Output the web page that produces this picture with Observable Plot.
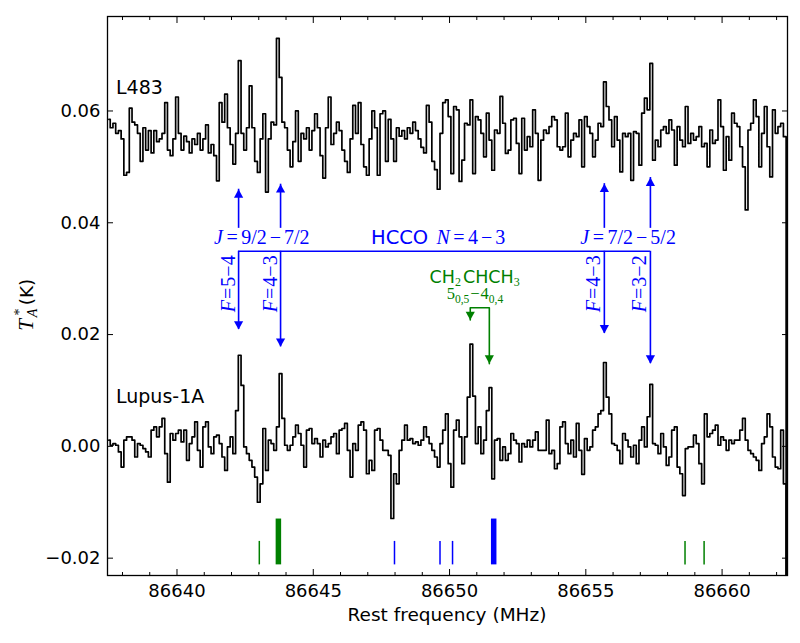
<!DOCTYPE html>
<html><head><meta charset="utf-8">
<script src="https://cdn.jsdelivr.net/npm/d3@7"></script>
<script src="https://cdn.jsdelivr.net/npm/@observablehq/plot@0.6"></script>
<style>body{margin:0;background:#fff}</style>
</head><body><div id="chart"></div>
<script>
// ---- channel grid (MHz) ----
const freqStart = 86637.5, channelWidth = 0.1;
// ---- spectra, T_A* in mK (last value: spectrum edge falling off the panel) ----
const l483 = [
58.5,57,57.8,56,56.5,55,48.5,49,60.5,58,
57.5,56,51,57,53,56.5,52.5,56.5,54.5,55,
56,61.5,53,52,55,62.5,56,53,55.5,54.5,
52.5,55,54,56,53,55,57.5,52.5,54,52,
47.5,61.5,58,63,57,54,50.5,56,69,56,
53,57,64.5,57,51,49,55,59.5,45.5,55,
58,57.5,73,66,58,57,53,50,54.5,60,
51,56,55,57,53,56.5,59.5,57,52,48,
57,62.5,54,56,58,56.5,53,51,49,55,
61,56,61.5,54,50,48.5,55,60,57,48.5,
59.5,60,51,58.5,55,51,57,55.5,56.5,55,
57,56,58,56.5,55,53.5,52.5,61,58,51,
49.5,46,56,61.5,62,59,48.8,60.8,60.2,47.4,
51.2,57.8,57.5,62,48.8,59,58.4,56,51.8,59.6,
54.8,49.4,56.6,56,62.6,57.8,52.4,53,58.4,58.7,
54.2,48.8,58.7,53,55.4,53.6,60.2,56,47.6,54.8,
56.6,56,57.2,59,58.4,53.6,53,53.6,59.6,51.8,
54.8,56,55.4,58.4,50,59,57.2,56,51.8,54.8,
57.8,57.2,65.2,60.8,58.4,53.6,59,54.8,49.1,56,
55.4,56,47.6,56.3,56,50.3,59.6,62.3,60.2,68.5,
51.2,54.8,53.6,56.6,57.2,56,58.4,56.6,50.3,57.2,
54.8,53.6,60.8,54.2,56,54.8,55.4,57.2,53.6,54.2,
50,56.6,54.2,54.8,62,57.2,49.4,55.4,51.2,59.6,
57.8,57.2,53.6,50,42.3,56.6,57.8,62,59,50,
56,60.8,53.6,48.2,60.2,56,57.2,57.8,55.4,
-100];
const lupus1A = [
1.1,0.2,0.5,0.2,-1.0,-3.7,1.1,1.7,1.7,1.1,
-1.9,0.5,0.2,-0.4,-1.0,-1.9,2.9,3.5,1.7,3.5,
5.0,-1.3,-6.4,2.3,1.1,2.3,2.9,0.8,2.9,-2.5,
0.5,1.7,4.4,-0.7,-3.7,3.5,4.4,-0.1,-1.3,1.7,
2.0,0.5,-1.9,-4.3,-0.1,1.7,-1.3,6.4,16.3,10.9,
-0.1,-1.3,-2.5,-3.7,-5.5,-10.0,-6.7,3.2,-4.3,1.1,
0.5,-0.7,3.5,13.0,5.0,0.2,-0.7,0.2,1.7,3.8,
2.3,0.2,-3.7,2.9,3.2,0.5,1.4,0.5,-1.9,1.1,
-0.1,0.5,1.7,2.3,-1.3,2.9,3.2,4.1,-0.7,-5.5,
0.5,-0.7,3.8,4.4,2.9,-4.9,-2.5,-4.3,2.9,3.2,
1.1,-0.7,-0.7,-1.6,-12.9,-4.9,-6.7,-0.7,1.1,3.8,
1.1,1.4,0.5,0.8,0.2,1.1,3.5,1.7,0.5,-0.7,
-1.9,-3.7,0.5,2.9,5.8,-3.1,-7.3,2.9,4.7,1.7,
-3.1,1.7,8.8,18.3,9.0,0.5,3.5,-1.3,1.1,6.4,
10.5,-5.8,1.1,1.4,-2.5,-0.1,-2.5,-1.3,2.3,1.1,
0.5,-2.8,0.5,-0.1,1.1,-0.1,1.1,2.6,-0.7,-0.7,
-0.7,4.7,-1.3,-0.7,-4.0,-3.1,3.5,4.4,0.5,-1.3,
1.1,-1.9,4.1,-0.7,-5.0,1.4,-0.7,-0.1,2.9,3.5,
5.8,6.4,15.0,8.8,5.8,0.5,0.2,-0.7,-3.1,2.3,
1.1,-0.1,-1.9,0.2,-3.1,1.1,3.5,-0.1,5.3,11.1,
0.5,0.2,-1.3,2.3,-0.1,-3.4,-1.9,2.9,3.5,-3.7,
-4.9,-8.8,-0.4,-0.1,-0.1,2.0,0.5,-3.1,-6.7,5.8,
1.7,2.3,2.9,3.8,0.2,1.7,1.1,-0.7,1.1,0.5,
1.1,1.1,2.9,5.0,1.1,-0.7,-1.3,-1.9,-2.5,-4.3,
0.5,1.7,5.8,3.5,-1.9,-3.7,-4.0,2.9,-6.7,
-100];

// ---- HCCO N=4-3 hyperfine components ----
const hccoFreq = [86642.26, 86643.80, 86655.68, 86657.37];
const hccoF = ["5\u22124", "4\u22123", "4\u22123", "3\u22122"];
const hccoDownTip = [0.0209, 0.0178, 0.0202, 0.0148];
const hccoUpTip = [0.0460, 0.0469, 0.0470, 0.0481];
const hccoBarY = 0.0349, hccoUpBase = 0.0390;
// ---- CH2CHCH3 5(0,5)-4(0,4) ----
const propFreq = [86651.46, 86650.76];
const propTip = [0.0148, 0.0226];
const propTop = 0.0248;
// ---- line markers at bottom ----
const greenThin = [86643.02, 86658.64, 86659.34];
const greenThick = [86643.72];
const blueThin = [86647.98, 86649.65, 86650.11];
const blueThick = [86651.62];
// ---- ticks ----
const xTicksMajor = [86640, 86645, 86650, 86655, 86660];
const xTicksMinor = [86638, 86639, 86641, 86642, 86643, 86644, 86646, 86647, 86648, 86649,
                     86651, 86652, 86653, 86654, 86656, 86657, 86658, 86659, 86661, 86662];
const yTicks = [-0.02, 0.00, 0.02, 0.04, 0.06];

const BLUE = "#0000ff", GREEN = "#008000";
const sans = "DejaVu Sans", serif = "Liberation Serif";

const toRows = arr => arr.map((v, i) => ({f: freqStart + channelWidth * i, v: v / 1000}));
const l483Data = toRows(l483), lupusData = toRows(lupus1A);
const hcco = hccoFreq.map((f, i) => ({f, down: hccoDownTip[i], up: hccoUpTip[i]}));
const bracket = [
  {f: propFreq[0], v: propTip[0]}, {f: propFreq[0], v: propTop},
  {f: propFreq[1], v: propTop}, {f: propFreq[1], v: propTip[1]}
];
const propTips = propFreq.map((f, i) => ({f, v: propTip[i]}));

// arrowheads with apex at the anchor point
const triDown = {draw(ctx, size) { const r = Math.sqrt(size / Math.PI); const w = 1.15 * r, h = 2.1 * r;
  ctx.moveTo(0, 0); ctx.lineTo(-w, -h); ctx.lineTo(w, -h); ctx.closePath(); }};
const triUp = {draw(ctx, size) { const r = Math.sqrt(size / Math.PI); const w = 1.15 * r, h = 2.1 * r;
  ctx.moveTo(0, 0); ctx.lineTo(-w, h); ctx.lineTo(w, h); ctx.closePath(); }};

const fmtY = d => (d < 0 ? "\u2212" : "") + Math.abs(d).toFixed(2);
const blank = () => "";

const chart = Plot.plot({
  width: 800, height: 643,
  marginLeft: 107, marginRight: 13, marginTop: 16, marginBottom: 68,
  style: {fontFamily: sans, fontSize: "18px", background: "white", color: "black"},
  x: {domain: [86637.45, 86662.4], label: null},
  y: {domain: [-0.0231, 0.0769], label: null},
  marks: [
    Plot.ruleX(greenThin, {x: d => d, y1: -0.0212, y2: -0.0170, stroke: GREEN, strokeWidth: 1.5}),
    Plot.ruleX(greenThick, {x: d => d, y1: -0.0212, y2: -0.0130, stroke: GREEN, strokeWidth: 5.5}),
    Plot.ruleX(blueThin, {x: d => d, y1: -0.0212, y2: -0.0170, stroke: BLUE, strokeWidth: 1.5}),
    Plot.ruleX(blueThick, {x: d => d, y1: -0.0212, y2: -0.0130, stroke: BLUE, strokeWidth: 5.5}),
    Plot.line(l483Data, {x: "f", y: "v", curve: "step", stroke: "black", strokeWidth: 1.7, clip: true}),
    Plot.line(lupusData, {x: "f", y: "v", curve: "step", stroke: "black", strokeWidth: 1.7, clip: true}),
    Plot.ruleY([hccoBarY], {x1: hccoFreq[0], x2: hccoFreq[3], stroke: BLUE, strokeWidth: 1.6}),
    Plot.ruleX(hcco, {x: "f", y1: hccoBarY, y2: "down", stroke: BLUE, strokeWidth: 1.6}),
    Plot.dot(hcco, {x: "f", y: "down", symbol: triDown, r: 4, fill: BLUE, stroke: "none"}),
    Plot.ruleX(hcco, {x: "f", y1: hccoUpBase, y2: "up", stroke: BLUE, strokeWidth: 1.6}),
    Plot.dot(hcco, {x: "f", y: "up", symbol: triUp, r: 4, fill: BLUE, stroke: "none"}),
    Plot.line(bracket, {x: "f", y: "v", stroke: GREEN, strokeWidth: 1.6}),
    Plot.dot(propTips, {x: "f", y: "v", symbol: triDown, r: 4, fill: GREEN, stroke: "none"}),
    Plot.frame({stroke: "black", strokeWidth: 1.3}),
    Plot.axisX({ticks: xTicksMajor, tickSize: -6, tickPadding: 15, tickFormat: d => String(d), label: null}),
    Plot.axisX({ticks: xTicksMinor, tickSize: -3, tickFormat: blank, label: null}),
    Plot.axisX({anchor: "top", ticks: xTicksMajor, tickSize: -6, tickFormat: blank, label: null}),
    Plot.axisX({anchor: "top", ticks: xTicksMinor, tickSize: -3, tickFormat: blank, label: null}),
    Plot.axisY({ticks: yTicks, tickSize: -6, tickPadding: 13, tickFormat: fmtY, label: null}),
    Plot.axisY({anchor: "right", ticks: yTicks, tickSize: -6, tickFormat: blank, label: null})
  ]
});
document.getElementById("chart").appendChild(chart);

// ---- rich text annotations positioned through the plot's scales ----
const sx = chart.scale("x").apply, sy = chart.scale("y").apply;
const svg = d3.select(chart);
const ann = svg.append("g");
function rich(parent, x, y, parts, {anchor = "start", fill = "black", rotate = 0} = {}) {
  const t = parent.append("text").attr("text-anchor", anchor).attr("fill", fill)
    .attr("transform", `translate(${x},${y})` + (rotate ? ` rotate(${rotate})` : ""));
  for (const p of parts) {
    const s = t.append("tspan").text(p.t)
      .attr("font-family", p.sans ? sans : serif).attr("font-size", p.fs);
    if (p.it) s.attr("font-style", "italic");
    if (p.dx) s.attr("dx", p.dx);
    if (p.dy) s.attr("dy", p.dy);
  }
  return t;
}
// source names
rich(ann, sx(86637.78), sy(0.0630), [{t: "L483", sans: 1, fs: 19}]);
rich(ann, sx(86637.78), sy(0.0077), [{t: "Lupus-1A", sans: 1, fs: 19}]);
// J labels
const jPos = [[86643.13, "9/2", "7/2"], [86656.57, "7/2", "5/2"]];
for (const [f, a, b] of jPos) {
  rich(ann, sx(f), sy(0.0361), [
    {t: "J", it: 1, fs: 20}, {t: "=", fs: 20, dx: 3.5}, {t: a, fs: 20, dx: 3.5},
    {t: "\u2212", fs: 20, dx: 3}, {t: b, fs: 20, dx: 3}], {anchor: "middle", fill: BLUE});
}
rich(ann, sx(86649.60), sy(0.0361), [
  {t: "HCCO ", sans: 1, fs: 19.5}, {t: "N", it: 1, fs: 20, dx: 2}, {t: "=", fs: 20, dx: 3.5},
  {t: "4", fs: 20, dx: 3.5}, {t: "\u2212", fs: 20, dx: 3}, {t: "3", fs: 20, dx: 3}],
  {anchor: "middle", fill: BLUE});
// F labels (rotated)
hccoFreq.forEach((f, i) => {
  rich(ann, sx(f) - 3.5, sy(0.0290), [
    {t: "F", it: 1, fs: 20}, {t: "=", fs: 20, dx: 1}, {t: hccoF[i], fs: 20, dx: 1}],
    {anchor: "middle", fill: BLUE, rotate: -90});
});
// CH2CHCH3 label
rich(ann, sx(86650.94), sy(0.0292), [
  {t: "CH", sans: 1, fs: 17.5}, {t: "2", fs: 12, dy: 3}, {t: "CHCH", sans: 1, fs: 17.5, dy: -3, dx: 2},
  {t: "3", fs: 12, dy: 3}], {anchor: "middle", fill: GREEN});
rich(ann, sx(86650.95), sy(0.0262), [
  {t: "5", fs: 16.5}, {t: "0,5", fs: 11.5, dy: 3.5}, {t: "\u2212", fs: 16.5, dy: -3.5, dx: 1},
  {t: "4", fs: 16.5, dx: 1}, {t: "0,4", fs: 11.5, dy: 3.5}], {anchor: "middle", fill: GREEN});
// axis titles
rich(ann, 447, 621, [{t: "Rest frequency (MHz)", sans: 1, fs: 18.5}], {anchor: "middle"});
const yl = ann.append("g").attr("transform", "translate(33,297) rotate(-90)");
yl.append("text").attr("x", -28).attr("y", 0).attr("font-family", serif).attr("font-style", "italic").attr("font-size", 21).text("T");
yl.append("text").attr("x", -15).attr("y", -9).attr("font-family", serif).attr("font-size", 14).text("*");
yl.append("text").attr("x", -16).attr("y", 4).attr("font-family", serif).attr("font-style", "italic").attr("font-size", 14).text("A");
yl.append("text").attr("x", 5).attr("y", 0).attr("font-family", sans).attr("font-size", 18.5).text("(K)");
</script>
</body></html>
